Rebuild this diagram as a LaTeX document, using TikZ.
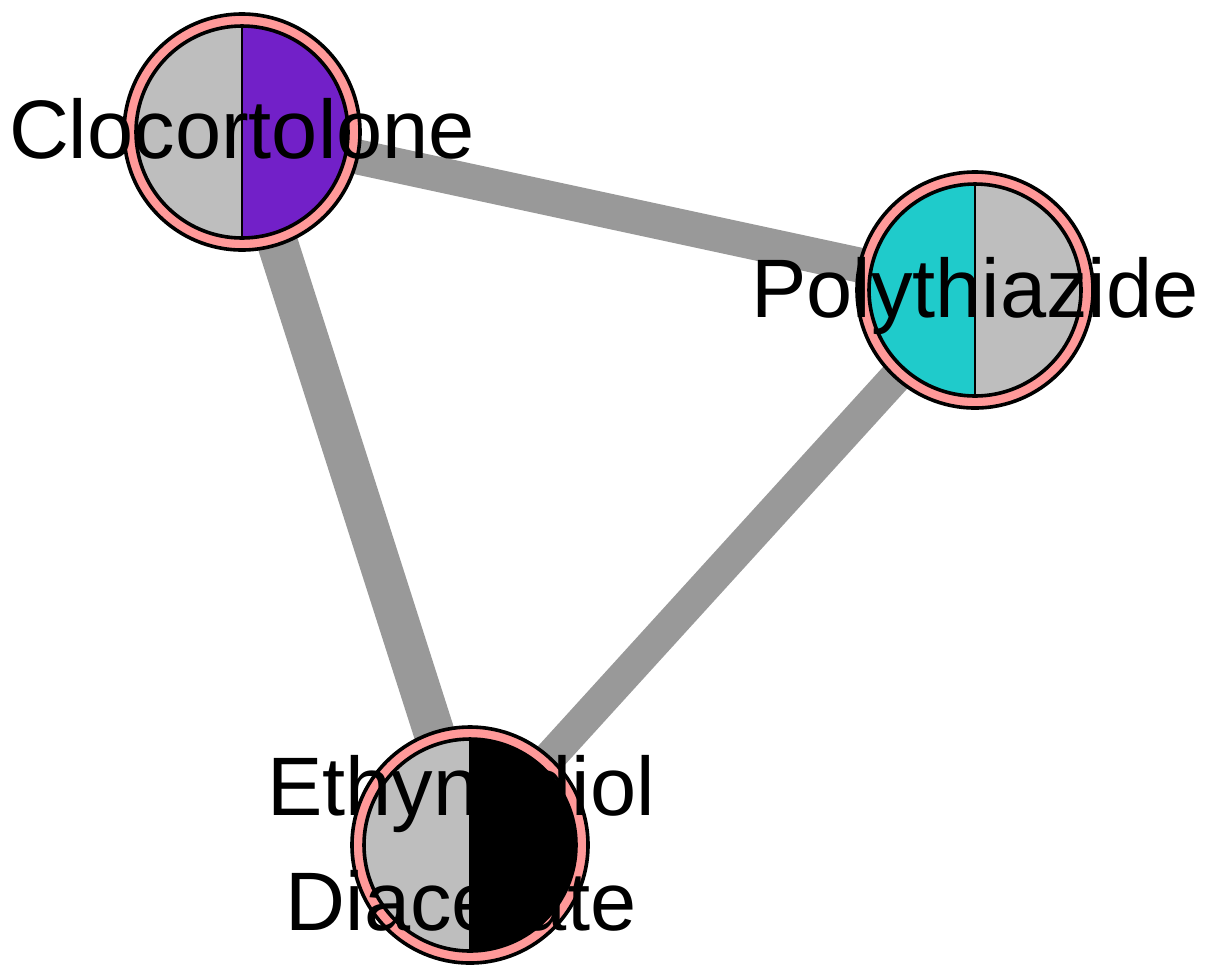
\documentclass[tikz,border=0pt]{standalone}
\usepackage{fontspec}
\setmainfont{Liberation Sans}
\usetikzlibrary{backgrounds}
\definecolor{ringpink}{HTML}{FF9999}
\definecolor{halfgray}{HTML}{BEBEBE}
\definecolor{clopurple}{HTML}{7220C8}
\definecolor{polycyan}{HTML}{1FCBCB}
\definecolor{edgegray}{HTML}{999999}

\begin{document}
\begin{tikzpicture}[
    x=0.5pt, y=-0.5pt,
    ring/.style={circle, draw=black, fill=ringpink, line width=1.8pt,
      minimum size=118pt, inner sep=0pt},
    halves/.style 2 args={circle, draw=black, line width=1.8pt,
      minimum size=106pt, inner sep=0pt,
      path picture={
        \fill[#1] (path picture bounding box.south west) rectangle (path picture bounding box.north);
        \fill[#2] (path picture bounding box.south) rectangle (path picture bounding box.north east);
        \draw[line width=1.1pt] (path picture bounding box.south) -- (path picture bounding box.north);
      }},
    lbl/.style={font=\fontsize{41.5}{57.5}\selectfont, align=center, inner sep=0pt},
    edge/.style={draw=edgegray, line cap=butt}
  ]
    \useasboundingbox (0,0) rectangle (1208,966);

    %% Clocortolone (kiri atas)
    \node[ring] (clo) at (242,132) {};
    \node[halves={halfgray}{clopurple}] (cloin) at (clo) {};

    %% Polythiazide (kanan)
    \node[ring] (poly) at (975,290) {};
    \node[halves={polycyan}{halfgray}] (polyin) at (poly) {};

    %% Ethynodiol Diacetate (bawah)
    \node[ring] (ethy) at (470,845) {};
    \node[halves={halfgray}{black}] (ethyin) at (ethy) {};

    %% Edges
    \begin{scope}[on background layer]
      \draw[edge, line width=17.5pt] (clo.center) -- (poly.center);
      \draw[edge, line width=20.5pt] (clo.center) -- (ethy.center);
      \draw[edge, line width=16.25pt] (poly.center) -- (ethy.center);
    \end{scope}

    %% Labels
    \node[lbl, anchor=base] (clolab) at (242,158) {Clocortolone};
    \node[lbl, anchor=base] (polylab) at (975,317) {Polythiazide};
    \node[lbl, anchor=base] (ethylab) at (461,930) {Ethynodiol\\Diacetate};
  \end{tikzpicture}
\end{document}
